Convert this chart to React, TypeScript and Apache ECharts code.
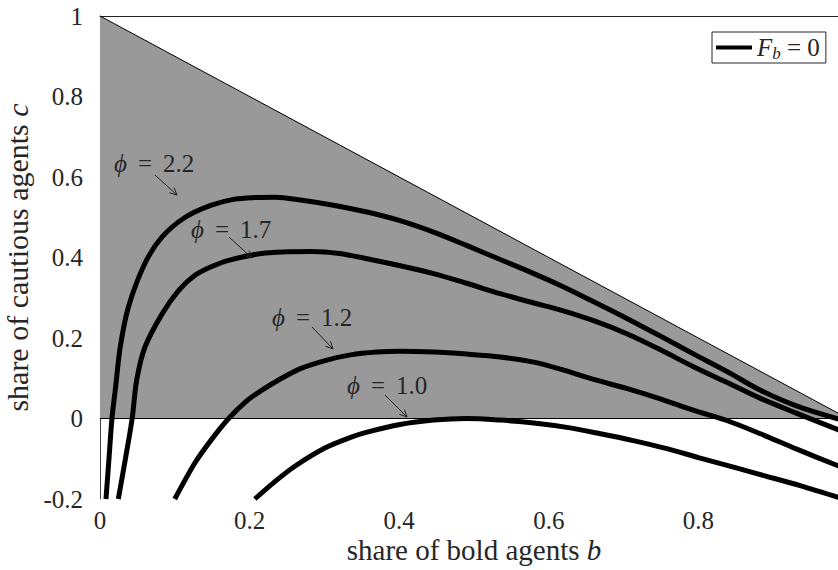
import React, { useEffect, useRef } from 'react';
import * as echarts from 'echarts';

// ---- data ----
const X_RANGE = [0, 1];
const Y_RANGE = [-0.2, 1];
const TICK_STEP = 0.2;

const LEGEND_NAME = 'F_b = 0';
const CURVE_NAMES = [LEGEND_NAME, 'phi = 1.7', 'phi = 1.2', 'phi = 1.0'];

// phi = 2.2
const CURVE_PHI_22: [number, number][] = [
  [0.008, -0.2], [0.012, -0.1], [0.016, 0], [0.021, 0.08], [0.027, 0.177], [0.038, 0.277],
  [0.06, 0.385], [0.083, 0.451], [0.114, 0.5], [0.149, 0.53], [0.18, 0.545], [0.207, 0.549],
  [0.235, 0.55], [0.268, 0.543], [0.312, 0.53], [0.357, 0.513], [0.4, 0.492], [0.446, 0.463],
  [0.49, 0.43], [0.535, 0.395], [0.58, 0.36], [0.615, 0.331], [0.66, 0.29], [0.705, 0.248],
  [0.75, 0.204], [0.794, 0.16], [0.84, 0.115], [0.883, 0.07], [0.93, 0.032], [0.99, -0.003],
];
// phi = 1.7
const CURVE_PHI_17: [number, number][] = [
  [0.0245, -0.2], [0.034, -0.1], [0.043, 0], [0.049, 0.095], [0.06, 0.177], [0.083, 0.26],
  [0.105, 0.318], [0.127, 0.356], [0.15, 0.378], [0.172, 0.393], [0.216, 0.41], [0.25, 0.414],
  [0.283, 0.415], [0.32, 0.41], [0.357, 0.397], [0.4, 0.38], [0.446, 0.36], [0.49, 0.336],
  [0.535, 0.31], [0.58, 0.287], [0.615, 0.27], [0.66, 0.243], [0.705, 0.21], [0.75, 0.17],
  [0.794, 0.128], [0.84, 0.088], [0.883, 0.05], [0.93, 0.014], [0.99, -0.03],
];
// phi = 1.2
const CURVE_PHI_12: [number, number][] = [
  [0.1, -0.2], [0.127, -0.11], [0.15, -0.05], [0.172, 0], [0.195, 0.042], [0.216, 0.07],
  [0.24, 0.097], [0.268, 0.124], [0.301, 0.144], [0.335, 0.158], [0.37, 0.165], [0.401, 0.167],
  [0.446, 0.165], [0.49, 0.16], [0.535, 0.153], [0.58, 0.14], [0.62, 0.12], [0.66, 0.097],
  [0.705, 0.074], [0.75, 0.048], [0.794, 0.02], [0.838, -0.005], [0.883, -0.038],
  [0.93, -0.075], [0.99, -0.12],
];
// phi = 1.0
const CURVE_PHI_10: [number, number][] = [
  [0.207, -0.2], [0.235, -0.155], [0.261, -0.118], [0.3, -0.074], [0.335, -0.047],
  [0.357, -0.034], [0.401, -0.015], [0.446, -0.004], [0.49, 0], [0.535, -0.004], [0.58, -0.011],
  [0.624, -0.022], [0.669, -0.038], [0.713, -0.055], [0.758, -0.075], [0.8, -0.097],
  [0.847, -0.121], [0.89, -0.143], [0.936, -0.167], [0.99, -0.198],
];

// feasible region b + c <= 1, c >= 0
const FEASIBLE_EDGE: [number, number][] = [[0, 1], [1, 0]];
const ZERO_LINE: [number, number][] = [[0, 0], [1, 0]];

const PHI_LABELS = ['2.2', '1.7', '1.2', '1.0'];

// ---- layout of the annotations (pixels) ----
const ANNOTATION_LAYOUT = [
  { tx: 114, ty: 163, x1: 155, y1: 175, x2: 177, y2: 195 },
  { tx: 191, ty: 229, x1: 229, y1: 237, x2: 252, y2: 258 },
  { tx: 272, ty: 317, x1: 312, y1: 327, x2: 333, y2: 349 },
  { tx: 347, ty: 385, x1: 385, y1: 395, x2: 407, y2: 417 },
];

const FONT = 'Liberation Serif, DejaVu Serif, serif';
const TEXT_COLOR = '#262626';

function arrowHead(x1: number, y1: number, x2: number, y2: number) {
  const a = Math.atan2(y2 - y1, x2 - x1);
  const len = 8;
  const ang = Math.PI / 7;
  return [
    [x2 - len * Math.cos(a - ang), y2 - len * Math.sin(a - ang)],
    [x2, y2],
    [x2 - len * Math.cos(a + ang), y2 - len * Math.sin(a + ang)],
  ];
}

const fmt = (v: number) => String(Math.round(v * 10) / 10);

export default function App() {
  const ref = useRef<HTMLDivElement>(null);

  useEffect(() => {
    document.documentElement.style.overflow = 'hidden';
    document.body.style.overflow = 'hidden';
    if (!ref.current) return;
    const chart = echarts.init(ref.current, undefined, { renderer: 'svg' });

    const phiRich = {
      p: { fontFamily: FONT, fontSize: 25, fontStyle: 'italic', fill: TEXT_COLOR, color: TEXT_COLOR },
      e: { fontFamily: FONT, fontSize: 25, fill: TEXT_COLOR, color: TEXT_COLOR, padding: [0, 11, 0, 11] },
      n: { fontFamily: FONT, fontSize: 25, fill: TEXT_COLOR, color: TEXT_COLOR },
    };

    const graphics: any[] = [];
    ANNOTATION_LAYOUT.forEach((a, i) => {
      graphics.push({
        type: 'text',
        x: a.tx,
        y: a.ty,
        z: 100,
        style: {
          text: `{p|ϕ}{e|=}{n|${PHI_LABELS[i]}}`,
          rich: phiRich,
          fontFamily: FONT,
          fontSize: 25,
          fill: TEXT_COLOR,
          verticalAlign: 'middle',
          align: 'left',
        },
      });
      graphics.push({
        type: 'line',
        z: 100,
        shape: { x1: a.x1, y1: a.y1, x2: a.x2, y2: a.y2 },
        style: { stroke: '#222', lineWidth: 1 },
      });
      graphics.push({
        type: 'polyline',
        z: 100,
        shape: { points: arrowHead(a.x1, a.y1, a.x2, a.y2) },
        style: { stroke: '#222', lineWidth: 1, fill: null },
      });
    });

    const curves = [CURVE_PHI_22, CURVE_PHI_17, CURVE_PHI_12, CURVE_PHI_10];

    const titleRichX = {
      r: { fontFamily: FONT, fontSize: 29, color: TEXT_COLOR },
      i: { fontFamily: FONT, fontSize: 29, fontStyle: 'italic', color: TEXT_COLOR },
    };
    const titleRichY = {
      r: { fontFamily: FONT, fontSize: 30, color: TEXT_COLOR },
      i: { fontFamily: FONT, fontSize: 30, fontStyle: 'italic', color: TEXT_COLOR },
    };

    chart.setOption({
      animation: false,
      textStyle: { fontFamily: FONT },
      grid: {
        left: 100,
        right: 0,
        top: 16,
        bottom: 71,
        containLabel: false,
        outerBoundsMode: 'none',
      },
      legend: {
        data: [LEGEND_NAME],
        left: 712,
        top: 32,
        orient: 'vertical',
        icon: 'rect',
        itemWidth: 36,
        itemHeight: 4,
        itemGap: 0,
        padding: [3, 6, 1, 4],
        backgroundColor: '#fff',
        borderColor: '#262626',
        borderWidth: 1,
        borderRadius: 0,
        selectedMode: false,
        formatter: () => '{f|F}{s|b}{n| = 0}',
        textStyle: {
          fontFamily: FONT,
          color: TEXT_COLOR,
          padding: [0, 0, 0, 0],
          rich: {
            f: { fontFamily: FONT, fontSize: 25, fontStyle: 'italic', color: TEXT_COLOR },
            s: { fontFamily: FONT, fontSize: 17, fontStyle: 'italic', color: TEXT_COLOR, padding: [12, 0, 0, 0] },
            n: { fontFamily: FONT, fontSize: 25, color: TEXT_COLOR },
          },
        },
      },
      xAxis: [
        {
          type: 'value',
          min: X_RANGE[0],
          max: X_RANGE[1],
          interval: TICK_STEP,
          position: 'bottom',
          name: '{r|share of bold agents }{i|b}',
          nameLocation: 'middle',
          nameGap: 36,
          nameMoveOverlap: false,
          nameTextStyle: { fontFamily: FONT, rich: titleRichX },
          axisLine: { show: true, lineStyle: { color: '#7a7a7a', width: 1 } },
          axisTick: { show: true, inside: true, length: 7, lineStyle: { color: '#7a7a7a' } },
          axisLabel: {
            fontFamily: FONT,
            fontSize: 25,
            color: TEXT_COLOR,
            margin: 9,
            showMaxLabel: false,
            formatter: fmt,
          },
          splitLine: { show: false },
        },
        {
          type: 'value',
          min: X_RANGE[0],
          max: X_RANGE[1],
          interval: TICK_STEP,
          position: 'top',
          axisLine: { show: true, onZero: false, lineStyle: { color: '#222', width: 1 } },
          axisTick: { show: false },
          axisLabel: { show: false },
          splitLine: { show: false },
        },
      ],
      yAxis: {
        type: 'value',
        min: Y_RANGE[0],
        max: Y_RANGE[1],
        interval: TICK_STEP,
        name: '{r|share of cautious agents }{i|c}',
        nameLocation: 'middle',
        nameGap: 65,
        nameTextStyle: { fontFamily: FONT, rich: titleRichY },
        axisLine: { show: true, onZero: false, lineStyle: { color: '#444', width: 1 } },
        axisTick: { show: false },
        axisLabel: { fontFamily: FONT, fontSize: 25, color: TEXT_COLOR, margin: 17, formatter: fmt },
        splitLine: { show: false },
      },
      series: [
        {
          name: 'feasible',
          type: 'line',
          data: FEASIBLE_EDGE,
          symbol: 'none',
          silent: true,
          z: 1,
          lineStyle: { color: '#000', width: 1 },
          areaStyle: { color: '#999999', opacity: 1, origin: 0 },
        },
        {
          name: 'zero',
          type: 'line',
          data: ZERO_LINE,
          symbol: 'none',
          silent: true,
          z: 2,
          lineStyle: { color: '#000', width: 1 },
        },
        ...curves.map((d, i) => ({
          name: CURVE_NAMES[i],
          type: 'line',
          data: d,
          symbol: 'none',
          smooth: 0.3,
          silent: true,
          z: 3,
          color: '#000',
          itemStyle: { color: '#000' },
          lineStyle: { color: '#000', width: 5 },
        })),
      ],
      graphic: graphics,
    });

    return () => chart.dispose();
  }, []);

  return <div ref={ref} style={{ position: 'absolute', left: 0, top: 0, width: 848, height: 570 }} />;
}
